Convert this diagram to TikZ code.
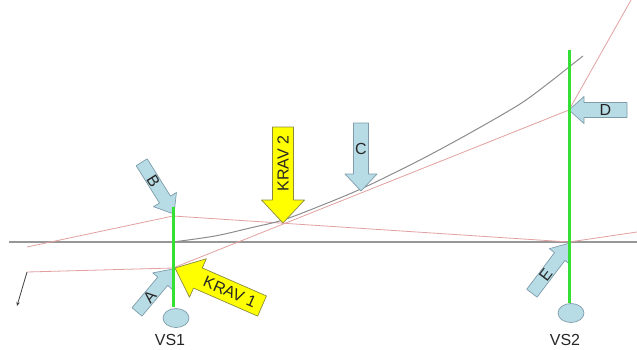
\documentclass[tikz,border=0pt]{standalone}
\usepackage{fontspec}
\setmainfont{Liberation Sans}
\usetikzlibrary{arrows.meta,shapes.geometric}
\definecolor{lb}{HTML}{B7DCE6}
\definecolor{lbd}{HTML}{7E9CAA}
\definecolor{yel}{HTML}{FFFF00}
\definecolor{yeld}{HTML}{8A8A40}
\definecolor{grn}{HTML}{33E033}
\definecolor{rd}{HTML}{E2A0A0}
\definecolor{gr}{HTML}{8C8C8C}
% #1 name of shaft-centre coordinate, #2 tip, #3 direction angle, #4 length,
% #5 half shaft width, #6 half head width, #7 head length, #8 style
\newcommand\blockarrow[8]{%
  \begin{scope}[shift={#2}, rotate=#3]
    \draw[#8] (0pt,0pt) -- (-#7pt,#6pt) -- (-#7pt,#5pt) -- (-#4pt,#5pt)
      -- (-#4pt,-#5pt) -- (-#7pt,-#5pt) -- (-#7pt,-#6pt) -- cycle;
    \coordinate (#1) at ({-(#4+#7)/2*1pt},0pt);
  \end{scope}}
\begin{document}
\begin{tikzpicture}[x=1pt,y=-1pt,
  lbl/.style={font=\fontsize{16}{18}\selectfont, text=black!85, inner sep=0pt},
  bluearrow/.style={fill=lb, draw=lbd, line width=0.7pt, line join=round},
  yellowarrow/.style={fill=yel, draw=yeld, line width=0.7pt, line join=round},
  redline/.style={draw=rd, line width=0.8pt},
  grayline/.style={draw=gr, line width=1pt},
  post/.style={draw=grn, line width=3pt},
  foot/.style={ellipse, fill=lb, draw=lbd, line width=0.7pt, minimum width=26pt, minimum height=19pt, inner sep=0pt}]
\useasboundingbox (0,0) rectangle (637,349);
% key points
\coordinate (pB) at (173,216);
\coordinate (pA) at (173,268);
\coordinate (pE) at (569,242);
\coordinate (pD) at (569,110);
\coordinate (pK1) at (175,268);
\coordinate (pK2) at (283,223);
\coordinate (pC) at (361,191);
\coordinate (L1) at (27,247);
\coordinate (L2) at (27,272);
\coordinate (Lend) at (17,306);
\coordinate (R1) at (637,232);
\coordinate (Rtop) at (631,0);
\coordinate (base0) at (9,242);
\coordinate (base1) at (637,242);
\coordinate (v1top) at (173,207);
\coordinate (v1bot) at (173,307);
\coordinate (v2top) at (569,50);
\coordinate (v2bot) at (569,303);
% base line
\draw[draw=gr!90, line width=1.1pt] (base0) -- (base1);
% red lines
\draw[redline] (L1) -- (pB) -- (pE) -- (R1);
\draw[redline] (L2) -- (pA) -- (pD) -- (Rtop);
\draw[draw=black!75, line width=0.8pt, -{Stealth[length=4pt,width=3.5pt]}] (L2) -- (Lend);
% gray curve
\draw[grayline] plot[smooth, tension=0.5] coordinates {(173,242) (215,236) (250,228) (283,220) (320,206) (363,188) (420,160) (470,133) (520,104) (550,82) (569,67) (583,56)};
% block arrows
\blockarrow{cB}{(174,214)}{-58}{61}{6.5}{13.5}{17}{bluearrow}
\blockarrow{cA}{(173,269)}{50}{56}{6.5}{13}{16}{bluearrow}
\blockarrow{cE}{(570,243)}{52.8}{63}{6.5}{13}{17}{bluearrow}
\blockarrow{cC}{(pC)}{-90}{68}{7.5}{16}{17}{bluearrow}
\blockarrow{cD}{(pD)}{180}{58}{7.5}{13.5}{15}{bluearrow}
\blockarrow{cK1}{(pK1)}{156.4}{95}{11}{21}{25}{yellowarrow}
\blockarrow{cK2}{(pK2)}{-90}{96}{10.5}{21.5}{23}{yellowarrow}
% posts
\draw[post] (v1top) -- (v1bot);
\draw[post] (v2top) -- (v2bot);
\node[foot] (vs1) at (176,318) {};
\node[foot] (vs2) at (571,313) {};
% labels
\node[lbl, rotate=-58] (tB) at (cB) {B};
\node[lbl, rotate=50] (tA) at (cA) {A};
\node[lbl, rotate=52.8] (tE) at (cE) {E};
\node[lbl] (tC) at (cC) {C};
\node[lbl] (tD) at (cD) {D};
\node[lbl, rotate=-23.6] (tK1) at (cK1) {KRAV 1};
\node[lbl, rotate=90] (tK2) at (cK2) {KRAV 2};
\node[lbl] (lvs1) at (170,340) {VS1};
\node[lbl] (lvs2) at (565,340) {VS2};
\end{tikzpicture}
\end{document}
